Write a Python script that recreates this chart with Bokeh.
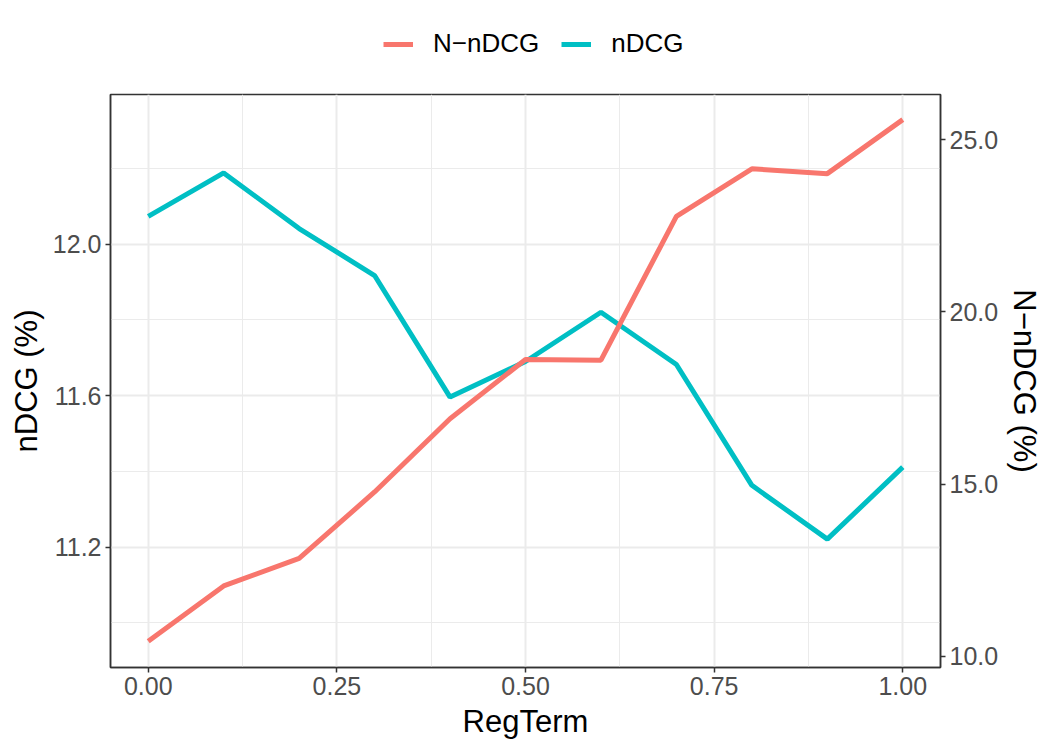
from bokeh.plotting import figure
from bokeh.layouts import column
from bokeh.models import (Range1d, LinearAxis, FixedTicker, Legend, LegendItem,
                          PrintfTickFormatter)
from bokeh.embed import file_html
from bokeh.resources import INLINE

# ---- data ----
reg_term = [0.0, 0.1, 0.2, 0.3, 0.4, 0.5, 0.6, 0.7, 0.8, 0.9, 1.0]
ndcg = [12.073, 12.188, 12.041, 11.917, 11.596, 11.690, 11.820, 11.682, 11.363, 11.221, 11.411]
n_ndcg = [10.43, 12.04, 12.84, 14.77, 16.90, 18.62, 18.60, 22.78, 24.16, 24.02, 25.59]

x_ticks = [0.0, 0.25, 0.5, 0.75, 1.0]
x_minor = [0.125, 0.375, 0.625, 0.875]
left_ticks = [11.2, 11.6, 12.0]
left_minor = [11.0, 11.4, 11.8, 12.2]
right_ticks = [10.0, 15.0, 20.0, 25.0]

series_names = ["N\u2212nDCG", "nDCG"]
colors = ["#F8766D", "#00BFC4"]

FONT = "Liberation Sans"
TICK_COLOR = "#4D4D4D"
LINE_DARK = "#333333"
LW = 5

p = figure(width=1050, height=658,
           output_backend="svg", toolbar_location=None,
           x_range=Range1d(-0.05, 1.05), y_range=Range1d(10.882, 12.395),
           min_border_left=110, min_border_right=110,
           min_border_top=2, min_border_bottom=83)
p.extra_y_ranges = {"right": Range1d(9.67, 26.32)}

p.background_fill_color = "white"
p.border_fill_color = "white"
p.outline_line_color = LINE_DARK
p.outline_line_width = 1.5

# grids
p.xgrid.ticker = FixedTicker(ticks=x_ticks, minor_ticks=x_minor)
p.ygrid.ticker = FixedTicker(ticks=left_ticks, minor_ticks=left_minor)
for g in (p.xgrid, p.ygrid):
    g.grid_line_color = "#EBEBEB"
    g.grid_line_width = 2
    g.minor_grid_line_color = "#EBEBEB"
    g.minor_grid_line_width = 1

# lines (cyan first, red on top)
r_ndcg = p.line(reg_term, ndcg, line_color=colors[1], line_width=LW)
r_nndcg = p.line(reg_term, n_ndcg, line_color=colors[0], line_width=LW,
                 y_range_name="right")


def style_axis(ax):
    ax.axis_line_color = LINE_DARK
    ax.axis_line_width = 1.5
    ax.major_tick_line_color = LINE_DARK
    ax.major_tick_line_width = 1.5
    ax.major_tick_in = 0
    ax.major_tick_out = 5
    ax.minor_tick_line_color = None
    ax.major_label_text_font = FONT
    ax.major_label_text_font_size = "25px"
    ax.major_label_text_color = TICK_COLOR
    ax.major_label_standoff = 4
    ax.axis_label_text_font = FONT
    ax.axis_label_text_font_size = "31px"
    ax.axis_label_text_font_style = "normal"
    ax.axis_label_text_color = "black"
    ax.axis_label_standoff = 6


xa = p.xaxis[0]
xa.ticker = FixedTicker(ticks=x_ticks, minor_ticks=x_minor)
xa.formatter = PrintfTickFormatter(format="%.2f")
xa.axis_label = "RegTerm"
style_axis(xa)

ya = p.yaxis[0]
ya.ticker = FixedTicker(ticks=left_ticks, minor_ticks=left_minor)
ya.formatter = PrintfTickFormatter(format="%.1f")
ya.axis_label = "nDCG (%)"
style_axis(ya)

yr = LinearAxis(y_range_name="right",
                ticker=FixedTicker(ticks=right_ticks),
                formatter=PrintfTickFormatter(format="%.1f"),
                axis_label="N\u2212nDCG (%)")
style_axis(yr)
p.add_layout(yr, "right")

# ---- legend strip on top (same series, drawn outside its visible range) ----
lg = figure(width=1050, height=92, output_backend="svg", toolbar_location=None,
            x_range=Range1d(5, 6), y_range=Range1d(0, 1),
            x_axis_location=None, y_axis_location=None,
            min_border=0)
lg.grid.visible = False
lg.outline_line_color = None
lg.background_fill_color = "white"
lg.border_fill_color = "white"
d_nndcg = lg.line(reg_term, n_ndcg, line_color=colors[0], line_width=LW)
d_ndcg = lg.line(reg_term, ndcg, line_color=colors[1], line_width=LW)

legend = Legend(items=[LegendItem(label=series_names[0], renderers=[d_nndcg]),
                       LegendItem(label=series_names[1], renderers=[d_ndcg])],
                orientation="horizontal", location=(273, 33),
                label_text_font=FONT, label_text_font_size="26px",
                label_text_color="black",
                glyph_width=30, glyph_height=20, label_standoff=20,
                spacing=22, padding=8, margin=0,
                border_line_color=None, background_fill_alpha=0)
lg.add_layout(legend, "center")

layout = column(lg, p, spacing=0)
open("out.html", "w").write(file_html(layout, INLINE))
